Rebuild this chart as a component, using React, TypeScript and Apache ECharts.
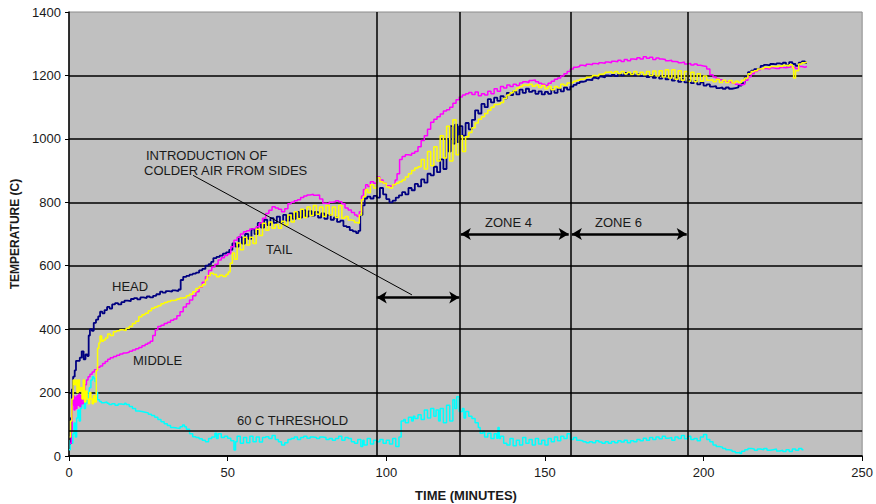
import React, { useEffect, useRef } from 'react';
import * as echarts from 'echarts';

// Axis settings
const X_MAX = 250;
const X_STEP = 50;
const Y_MAX = 1400;
const Y_STEP = 200;

// Zone boundaries (minutes) and the 60 C threshold level
const zoneBoundaries = [97, 123.3, 158, 195];
const thresholdLevel = 80;

// Double-headed span arrows: [start min, end min, temperature level]
const spanArrows: [number, number, number][] = [
  [97, 123, 500],
  [123.5, 157.5, 700],
  [158.5, 194.7, 700],
];

// Leader line from the "colder air" note to the first span
const leaderLine: [number, number][] = [
  [39.1, 885],
  [108.1, 508],
];

// HEAD thermocouple [minutes, deg C]
const head: [number, number][] = [
  [0.3,40],[0.6,120],[0.9,210],[1.3,250],[1.8,270],[2.2,300],[2.8,300],[3.4,310],[4,330],[4.6,305],[5.2,320],[5.8,315],[6.2,380],[6.6,400],[7.2,395],[7.8,420],[8.5,430],[9.2,440],[9.8,455],[10.5,450],[11.2,460],[12,470],[12.8,465],[13.6,478],[14.5,482],[15.5,478],[16.5,485],[17.5,490],[18.5,488],[19.5,495],[20.5,498],[21.5,494],[22.5,500],[23.5,498],[24.5,503],[25.5,500],[26.5,505],[27.5,510],[28.7,518],[29.5,515],[30.5,520],[31.5,518],[32.5,522],[33.5,520],[34.5,525],[35.2,555],[36,565],[37,568],[38,572],[39,575],[40,578],[41,585],[42,590],[43,600],[44,605],[44.8,612],[45.5,624],[46.5,628],[47.5,632],[48.5,638],[49.5,642],[50.5,650],[51.5,670],[52.5,660],[53.5,690],[54.5,670],[55.5,700],[56.5,685],[57.5,715],[58.5,700],[59.5,735],[60.5,720],[61.5,745],[62.5,728],[63.5,750],[64.5,735],[65.5,755],[66.5,738],[67.5,760],[68.5,742],[69.5,765],[70.5,748],[71.5,770],[72.5,752],[73.5,775],[74.5,755],[75.5,772],[76.5,758],[77.5,770],[78.5,752],[79.5,765],[80.5,748],[81.5,760],[82.5,745],[83.5,752],[84.5,738],[85.5,742],[86.5,725],[87.5,722],[88.5,712],[89.5,708],[90.5,703],[91.2,710],[91.8,760],[92.5,790],[93.2,812],[94,818],[95,812],[96,820],[97,815],[98,845],[99,825],[100,810],[101,800],[102,805],[103,815],[104,822],[105,832],[106,825],[107,845],[108,838],[109,858],[110,850],[111,872],[112,862],[113,890],[114,885],[115,912],[116,895],[117,935],[118,905],[119,1000],[119.7,960],[120.3,1040],[121,985],[121.7,1045],[122.4,990],[123,1040],[124,1010],[125,1050],[126,1030],[127,1060],[128,1090],[129,1080],[130,1110],[131,1100],[132,1125],[133,1115],[134,1130],[135,1120],[136,1135],[137,1128],[138,1145],[139,1138],[140,1150],[141,1140],[142,1155],[143,1145],[144,1158],[145,1148],[146,1152],[147,1142],[148,1150],[149,1140],[150,1148],[151,1142],[152,1155],[153,1145],[154,1158],[155,1150],[156,1162],[157,1155],[158,1165],[159,1170],[160,1176],[161,1180],[162,1182],[163,1186],[164,1185],[165,1192],[166,1190],[167,1196],[168,1194],[169,1200],[170,1198],[171,1202],[172,1198],[173,1205],[174,1200],[175,1208],[176,1204],[177,1206],[178,1200],[179,1204],[180,1198],[181,1202],[182,1195],[183,1200],[184,1192],[185,1198],[186,1190],[187,1196],[188,1188],[189,1194],[190,1184],[191,1192],[192,1180],[193,1190],[194,1178],[195,1185],[196,1176],[197,1182],[198,1172],[199,1178],[200,1168],[201,1172],[202,1165],[203,1166],[204,1160],[205,1162],[206,1158],[207,1162],[208,1158],[209,1160],[210,1162],[211,1168],[212,1176],[213,1195],[214,1210],[215,1215],[216,1220],[217,1222],[218,1230],[219,1233],[220,1232],[221,1236],[222,1235],[223,1238],[224,1236],[225,1240],[226,1232],[227,1242],[228,1236],[229,1230],[230,1240],[231,1244],[232,1240],[232.6,1242],
];

// MIDDLE thermocouple [minutes, deg C]
const middle: [number, number][] = [
  [0.3,40],[0.7,80],[1,160],[1.3,190],[1.6,145],[1.9,185],[2.2,150],[2.5,190],[2.8,160],[3.1,195],[3.4,155],[3.7,190],[4,165],[4.5,200],[5,225],[5.5,240],[6,250],[6.6,258],[7.3,265],[8,272],[9,280],[9.8,284],[10.6,292],[11.4,298],[12.2,305],[13,310],[14,314],[15,318],[16,322],[17,325],[18,327],[19,330],[20,334],[21,338],[22,342],[23,348],[24,352],[24.8,356],[25.6,362],[26.4,380],[27.2,398],[28,408],[29,412],[30,418],[31,422],[32,428],[33,432],[34,442],[35,455],[36,470],[37,480],[38,492],[39,505],[40,518],[41,532],[42,548],[43,565],[44,585],[45,596],[46,605],[47,618],[48,625],[49,632],[50,638],[51,660],[52,680],[53,690],[54,700],[55,707],[56,710],[57,716],[58,718],[59,723],[60,735],[61,750],[62,765],[63,775],[64,786],[65,782],[66,778],[67,770],[68,780],[69,795],[70,800],[71,805],[72,808],[73,815],[74,820],[75,823],[76,825],[77,822],[78,823],[79,810],[80,797],[81,795],[82,800],[83,802],[84,805],[85,802],[86,795],[87,782],[88,776],[89,768],[90,760],[90.8,755],[91.5,770],[92.2,820],[92.8,840],[93.5,855],[94.2,850],[95,865],[96,860],[97,880],[98,870],[99,860],[100,852],[101,850],[102,855],[102.8,870],[103.4,890],[104.2,935],[105,944],[106,950],[107,948],[108,955],[109,960],[110,975],[111,995],[112,1010],[113,1030],[114,1052],[115,1062],[116,1070],[117,1078],[118,1088],[119,1092],[120,1100],[121,1112],[122,1123],[123,1132],[124,1138],[125,1142],[126,1146],[127,1140],[128,1148],[129,1136],[130,1142],[131,1138],[132,1150],[133,1142],[134,1158],[135,1150],[136,1165],[137,1160],[138,1170],[139,1165],[140,1172],[141,1168],[142,1176],[143,1180],[144,1178],[145,1184],[146,1186],[147,1180],[148,1175],[149,1172],[150,1168],[151,1175],[152,1182],[153,1188],[154,1192],[155,1198],[156,1205],[157,1212],[158,1220],[159,1226],[160,1228],[161,1232],[162,1230],[163,1235],[164,1234],[165,1238],[166,1236],[167,1240],[168,1238],[169,1242],[170,1240],[171,1245],[172,1243],[173,1248],[174,1244],[175,1250],[176,1246],[177,1252],[178,1250],[179,1256],[180,1252],[181,1259],[182,1254],[183,1257],[184,1250],[185,1255],[186,1252],[187,1250],[188,1246],[189,1248],[190,1244],[191,1243],[192,1240],[193,1242],[194,1236],[195,1238],[196,1233],[197,1236],[198,1232],[199,1230],[200,1228],[201,1220],[202,1202],[203,1195],[204,1190],[205,1186],[206,1183],[207,1180],[208,1178],[209,1175],[210,1172],[211,1170],[212,1172],[213,1185],[214,1196],[215,1205],[216,1212],[217,1218],[218,1222],[219,1222],[220,1220],[221,1224],[222,1222],[223,1222],[224,1225],[225,1224],[226,1226],[227,1228],[228,1225],[229,1222],[230,1228],[231,1226],[232,1228],[232.6,1230],
];

// TAIL thermocouple [minutes, deg C]
const tail: [number, number][] = [
  [0.2,60],[0.5,110],[0.9,180],[1.3,240],[1.7,225],[2.1,240],[2.5,200],[2.9,240],[3.3,205],[3.7,215],[4.1,180],[4.5,240],[4.9,170],[5.3,205],[5.7,180],[6.1,165],[6.5,200],[6.9,180],[7.3,165],[7.7,190],[8.1,170],[8.6,270],[9,340],[9.4,356],[9.8,378],[10.3,362],[10.8,366],[11.5,372],[12.2,385],[13,380],[14,392],[15,395],[16,398],[17,396],[18,403],[19,408],[20,418],[21,425],[22,439],[23,445],[24,450],[25,458],[26,466],[27,470],[28,474],[29,480],[30,484],[31,487],[32,490],[33,492],[34,495],[35,498],[36,500],[37,505],[38,510],[39,518],[40,528],[41,534],[42,540],[43,555],[43.6,568],[44.5,576],[45.5,572],[46.5,565],[47.5,570],[48.5,566],[49.5,572],[50.2,580],[50.8,608],[51.5,640],[52.2,620],[53,672],[54,650],[55,690],[56,665],[57,690],[58,670],[59,715],[60,695],[61,734],[62,712],[63,738],[64,718],[65,730],[66,718],[67,740],[68,728],[69,760],[70,738],[71,770],[72,748],[73,778],[74,752],[75,785],[76,758],[77,790],[78,762],[79,785],[80,755],[81,790],[82,760],[83,785],[84,752],[85,790],[86,750],[87,755],[88,744],[89,742],[90,736],[90.8,734],[91.5,760],[92.2,808],[92.8,818],[93.5,840],[94.2,830],[95,855],[96,845],[97,877],[98,865],[99,860],[100,848],[101,845],[102,855],[103,860],[104,865],[105,870],[106,880],[107,890],[108,900],[109,908],[110,912],[111,935],[112,905],[113,960],[114,915],[115,975],[116,930],[117,1010],[118,940],[119,1040],[120,930],[121,1060],[122,950],[123,1010],[124,960],[125,1007],[126,1020],[127,1035],[128,1050],[129,1062],[130,1070],[131,1080],[132,1090],[133,1100],[134,1108],[135,1110],[136,1115],[137,1128],[138,1138],[139,1145],[140,1152],[141,1160],[142,1165],[143,1170],[144,1168],[145,1172],[146,1166],[147,1170],[148,1162],[149,1168],[150,1158],[151,1165],[152,1155],[153,1165],[154,1160],[155,1172],[156,1168],[157,1176],[158,1178],[159,1182],[160,1185],[161,1188],[162,1190],[163,1194],[164,1196],[165,1200],[166,1198],[167,1204],[168,1206],[169,1210],[170,1212],[171,1208],[172,1212],[173,1206],[174,1212],[175,1205],[176,1210],[177,1204],[178,1212],[179,1203],[180,1210],[181,1202],[182,1212],[183,1200],[184,1214],[185,1198],[186,1215],[187,1195],[188,1218],[189,1192],[190,1218],[191,1188],[192,1215],[193,1185],[194,1212],[195,1182],[196,1210],[197,1180],[198,1205],[199,1182],[200,1198],[201,1185],[202,1186],[203,1180],[204,1188],[205,1178],[206,1185],[207,1178],[208,1184],[209,1176],[210,1182],[211,1178],[212,1185],[213,1192],[214,1205],[215,1212],[216,1215],[217,1220],[218,1222],[219,1226],[220,1224],[221,1228],[222,1228],[223,1230],[224,1228],[225,1232],[226,1230],[227,1234],[228,1225],[228.4,1192],[229,1215],[230,1236],[231,1240],[232,1242],[232.6,1244],
];

// Lower probe (cyan trace) [minutes, deg C]
const lowerProbe: [number, number][] = [
  [0,20],[0.4,50],[0.8,40],[1.2,70],[1.6,104],[2,60],[2.4,120],[2.8,145],[3.2,110],[3.6,150],[4,175],[4.4,187],[4.8,150],[5.2,175],[5.6,167],[6,200],[6.4,215],[6.9,240],[7.4,250],[7.8,245],[8.2,235],[8.6,200],[9,177],[9.6,172],[10.2,168],[11,170],[12,166],[12.6,162],[13.5,165],[14.5,160],[15.5,164],[16.5,162],[17.5,166],[18,162],[19,156],[20,150],[21,142],[22,140],[23,138],[24,136],[25,132],[26,128],[27,122],[28,115],[29,108],[30,102],[31,96],[32,90],[33,88],[34,87],[35,92],[35.8,98],[36.4,92],[37,84],[38,70],[39,61],[40,58],[41,54],[42,50],[43,45],[44,55],[45,60],[46,72],[46.5,55],[47,70],[48,58],[49,62],[50,56],[51,48],[52,19],[52.5,45],[53,62],[54,40],[55,58],[56,42],[57,62],[58,45],[59,60],[60,44],[61,58],[62,61],[63,55],[64,65],[65,52],[66,45],[67,35],[68,42],[69,52],[70,55],[71,60],[72,52],[73,58],[74,62],[75,56],[76,60],[77,58],[78,55],[79,60],[80,58],[81,52],[82,55],[83,50],[84,55],[85,62],[86,50],[87,58],[88,55],[89,45],[90,40],[91,52],[92,30],[92.6,50],[93,35],[94,55],[95,38],[96,50],[97,45],[98,52],[99,40],[100,50],[101,38],[102,55],[103,30],[104,60],[104.7,110],[105.5,115],[106,105],[107,122],[108,110],[108.5,125],[109,118],[110,130],[111,115],[112,145],[113,120],[114,150],[115,125],[115.7,145],[116.5,110],[117,150],[118,105],[119,160],[120,110],[121,177],[121.6,150],[122.2,187],[123,140],[124,150],[124.5,120],[125,140],[126,125],[127,118],[128,105],[129,90],[129.6,72],[130.5,78],[131,60],[132,72],[133,55],[134,70],[134.8,56],[135.2,90],[135.6,55],[136,62],[137,40],[138,35],[139,55],[140,32],[141,50],[142,35],[143,58],[144,40],[145,52],[146,35],[147,55],[148,38],[149,50],[150,35],[151,55],[152,45],[153,60],[154,48],[155,62],[156,55],[157,70],[158,52],[159,58],[160,50],[161,48],[162,45],[163,42],[164,45],[165,42],[166,48],[167,44],[168,40],[169,45],[170,40],[171,46],[172,42],[173,48],[174,44],[175,50],[176,42],[177,48],[178,45],[179,52],[180,48],[181,56],[182,50],[183,58],[184,52],[185,60],[186,54],[187,62],[188,56],[189,58],[190,50],[191,60],[192,55],[193,65],[194,54],[195,62],[196,52],[197,55],[198,48],[199,60],[200,68],[201,52],[202,45],[203,35],[204,30],[205,28],[206,24],[207,20],[208,18],[209,14],[210,10],[211,12],[211.5,8],[212,15],[213,20],[214,24],[215,22],[216,18],[217,22],[218,20],[219,24],[220,18],[221,20],[222,22],[223,16],[224,18],[225,14],[226,20],[227,14],[228,22],[229,18],[230,24],[231,20],[231.5,22],
];

const FONT = "'Liberation Sans', Arial, sans-serif";
const TEXT_COLOR = '#1a1a1a';

// Annotation labels placed in pixel space
const notes: { text: string; x: number; y: number }[] = [
  { text: 'INTRODUCTION OF', x: 146, y: 155 },
  { text: 'COLDER AIR FROM SIDES', x: 144, y: 170 },
  { text: 'HEAD', x: 112, y: 286 },
  { text: 'MIDDLE', x: 133, y: 360 },
  { text: 'TAIL', x: 266, y: 249 },
  { text: '60 C THRESHOLD', x: 237, y: 420 },
  { text: 'ZONE 4', x: 485, y: 222 },
  { text: 'ZONE 6', x: 595, y: 222 },
];

function traceSeries(name: string, data: [number, number][], color: string, width = 1.5) {
  return {
    name,
    type: 'line',
    data,
    step: 'end',
    showSymbol: false,
    symbol: 'none',
    lineStyle: { color, width },
    itemStyle: { color },
    emphasis: { disabled: true },
    silent: true,
    z: 3,
  };
}

const plainLine = (a: number[], b: number[], width: number) => [
  { coord: a, symbol: 'none', lineStyle: { color: '#000', width, type: 'solid' } },
  { coord: b, symbol: 'none' },
];

export default function App() {
  const ref = useRef<HTMLDivElement>(null);

  useEffect(() => {
    if (!ref.current) return;
    const chart = echarts.init(ref.current, undefined, { renderer: 'svg' });

    const markLineData: any[] = [
      ...zoneBoundaries.map((x) => plainLine([x, 0], [x, Y_MAX], 1.5)),
      plainLine([0, thresholdLevel], [X_MAX, thresholdLevel], 1.5),
      plainLine(leaderLine[0], leaderLine[1], 1),
      ...spanArrows.map(([a, b, lvl]) => [
        { coord: [a, lvl], symbol: 'arrow', symbolSize: [9, 10], lineStyle: { color: '#000', width: 2.5, type: 'solid' } },
        { coord: [b, lvl], symbol: 'arrow', symbolSize: [9, 10] },
      ]),
    ];

    chart.setOption({
      animation: false,
      backgroundColor: '#ffffff',
      textStyle: { fontFamily: FONT },
      grid: {
        left: 69,
        right: 13,
        top: 12,
        bottom: 48,
        show: true,
        backgroundColor: '#c0c0c0',
        borderColor: '#8c8c8c',
        borderWidth: 1,
      },
      xAxis: {
        type: 'value',
        min: 0,
        max: X_MAX,
        interval: X_STEP,
        axisLine: { show: true, lineStyle: { color: '#000', width: 1.5 } },
        axisTick: { show: true, length: 5, lineStyle: { color: '#000', width: 1 } },
        axisLabel: { color: TEXT_COLOR, fontSize: 13, fontFamily: FONT, margin: 10, formatter: (v: number) => String(v) },
        splitLine: { show: false },
      },
      yAxis: {
        type: 'value',
        min: 0,
        max: Y_MAX,
        interval: Y_STEP,
        axisLine: { show: true, lineStyle: { color: '#000', width: 1.5 } },
        axisTick: { show: true, length: 4, lineStyle: { color: '#000', width: 1 } },
        axisLabel: { color: TEXT_COLOR, fontSize: 13, fontFamily: FONT, margin: 8, formatter: (v: number) => String(v) },
        splitLine: { show: true, showMaxLine: false, lineStyle: { color: '#000', width: 1.5 } },
      },
      graphic: [
        {
          type: 'text',
          x: 15,
          y: 234,
          rotation: Math.PI / 2,
          style: {
            text: 'TEMPERATURE (C)',
            fill: TEXT_COLOR,
            font: `bold 12px ${FONT}`,
            align: 'center',
            verticalAlign: 'middle',
          },
          silent: true,
        },
        {
          type: 'text',
          x: 466,
          y: 495,
          style: {
            text: 'TIME (MINUTES)',
            fill: TEXT_COLOR,
            font: `bold 13px ${FONT}`,
            align: 'center',
            verticalAlign: 'middle',
          },
          silent: true,
        },
        ...notes.map((n) => ({
          type: 'text',
          x: n.x,
          y: n.y,
          z: 10,
          style: {
            text: n.text,
            fill: TEXT_COLOR,
            font: `13px ${FONT}`,
            align: 'left',
            verticalAlign: 'middle',
          },
          silent: true,
        })),
      ],
      series: [
        {
          ...traceSeries('LOWER', lowerProbe, '#00ffff'),
          markLine: {
            silent: true,
            animation: false,
            symbol: ['none', 'none'],
            label: { show: false },
            emphasis: { disabled: true },
            lineStyle: { color: '#000', width: 1.5, type: 'solid' },
            data: markLineData,
          },
        },
        traceSeries('HEAD', head, '#000080', 1.8),
        traceSeries('MIDDLE', middle, '#ff00ff'),
        traceSeries('TAIL', tail, '#ffff00'),
      ],
    });

    return () => chart.dispose();
  }, []);

  return (
    <div
      ref={ref}
      style={{ position: 'fixed', left: 0, top: 0, width: 876, height: 504, background: '#fff' }}
    />
  );
}
